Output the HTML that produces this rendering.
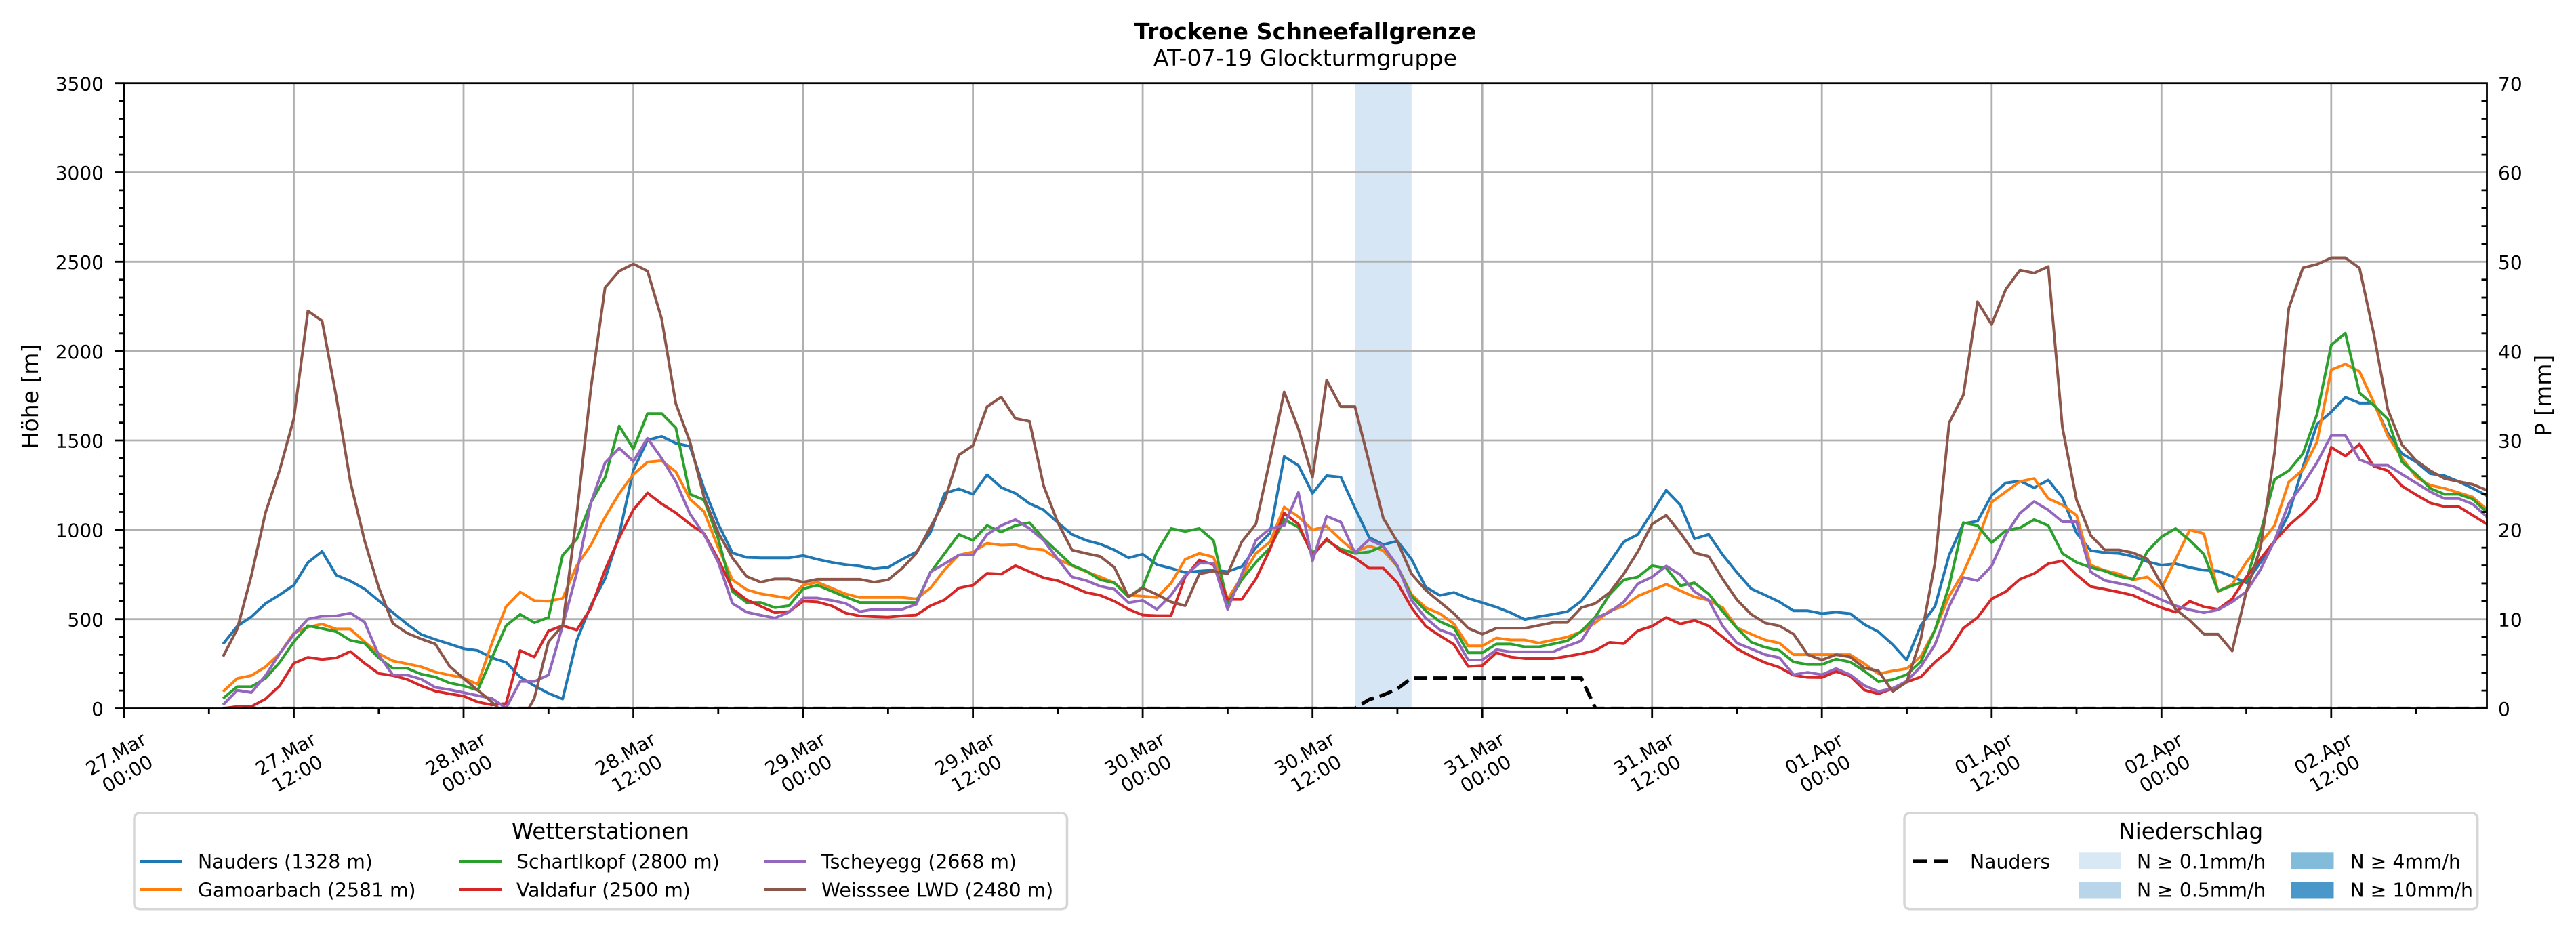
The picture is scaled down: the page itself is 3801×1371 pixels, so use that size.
<!DOCTYPE html>
<html><head><meta charset="utf-8"><style>
html,body{margin:0;padding:0;background:#fff;}
svg{display:block;}
text{font-family:"DejaVu Sans","Liberation Sans",sans-serif;fill:#000;}
.tk{font-size:28px;}
.lg{font-size:28.3px;}
</style></head><body>
<svg width="3801" height="1371" viewBox="0 0 3801 1371" xmlns="http://www.w3.org/2000/svg">
<defs><clipPath id="pc" clipPathUnits="userSpaceOnUse"><rect x="183" y="122.7" width="3486.5" height="922.8"/></clipPath></defs>
<rect width="3801" height="1371" fill="#fff"/>
<!-- title -->
<text x="1926" y="58" text-anchor="middle" font-size="33.3" font-weight="bold">Trockene Schneefallgrenze</text>
<text x="1926" y="97" text-anchor="middle" font-size="33.3">AT-07-19 Glockturmgruppe</text>
<!-- precip band -->
<rect x="1999.3" y="122.7" width="83.5" height="922.8" fill="#d6e6f4"/>
<!-- grid -->
<g stroke="#b0b0b0" stroke-width="2.8" fill="none">
<path d="M183,913.67H3669.5M183,781.83H3669.5M183,650H3669.5M183,518.17H3669.5M183,386.33H3669.5M183,254.5H3669.5"/>
<path d="M433.5,122.7V1045.5M684,122.7V1045.5M934.6,122.7V1045.5M1185.1,122.7V1045.5M1435.6,122.7V1045.5M1686.1,122.7V1045.5M1936.7,122.7V1045.5M2187.2,122.7V1045.5M2437.7,122.7V1045.5M2688.2,122.7V1045.5M2938.8,122.7V1045.5M3189.3,122.7V1045.5M3439.8,122.7V1045.5"/>
</g>
<!-- series -->
<g clip-path="url(#pc)">
<g transform="translate(183,1045.5) scale(20.877,-0.26366)" fill="none" stroke-width="4" stroke-linejoin="round" stroke-linecap="butt">
<polyline vector-effect="non-scaling-stroke" stroke="#1f77b4" points="7,361 8,460 9,513 10,587 11,636 12,690 13,817 14,879 15,746 16,713 17,669 18,603 19,537 20,472 21,414 22,386 23,361 24,335 25,324 26,283 27,258 28,176 29,127 30,85 31,53 32,381 33,578 34,726 35,973 36,1334 37,1502 38,1523 39,1484 40,1467 41,1229 42,1032 43,871 44,846 45,843 46,843 47,843 48,856 49,835 50,818 51,805 52,797 53,782 54,790 55,835 56,876 57,986 58,1204 59,1229 60,1199 61,1308 62,1237 63,1204 64,1147 65,1111 66,1040 67,974 68,941 69,920 70,887 71,843 72,864 73,805 74,785 75,761 76,769 77,774 78,766 79,794 80,900 81,983 82,1410 83,1360 84,1204 85,1303 86,1295 87,1122 88,958 89,917 90,937 91,835 92,679 93,633 94,649 95,616 96,592 97,567 98,536 99,498 100,514 101,527 102,542 103,601 104,705 105,818 106,933 107,974 108,1098 109,1221 110,1139 111,950 112,974 113,859 114,761 115,670 116,634 117,596 118,547 119,547 120,531 121,539 122,531 123,470 124,429 125,358 126,271 127,465 128,572 129,859 130,1035 131,1048 132,1193 133,1262 134,1273 135,1235 136,1278 137,1180 138,983 139,884 140,872 141,868 142,851 143,822 144,802 145,810 146,789 147,774 148,769 149,739 150,703 151,818 152,933 153,1089 154,1352 155,1591 156,1660 157,1742 158,1709 159,1709 160,1541 161,1426 162,1380 163,1314 164,1303 165,1270 166,1232 167,1191"/>
<polyline vector-effect="non-scaling-stroke" stroke="#ff7f0e" points="7,94 8,168 9,184 10,233 11,307 12,422 13,455 14,472 15,444 16,444 17,373 18,307 19,266 20,250 21,233 22,204 23,187 24,171 25,135 26,365 27,570 28,652 29,603 30,600 31,616 32,800 33,915 34,1071 35,1203 36,1310 37,1379 38,1387 39,1325 40,1172 41,1101 42,900 43,720 44,665 45,642 46,629 47,616 48,690 49,707 50,674 51,641 52,621 53,621 54,621 55,621 56,613 57,674 58,777 59,859 60,876 61,925 62,914 63,917 64,896 65,887 66,835 67,799 68,766 69,736 70,703 71,634 72,628 73,621 74,700 75,835 76,868 77,848 78,613 79,736 80,868 81,933 82,1127 83,1073 84,999 85,1020 86,945 87,876 88,909 89,884 90,794 91,638 92,564 93,531 94,473 95,350 96,350 97,394 98,383 99,383 100,366 101,383 102,399 103,430 104,480 105,547 106,572 107,629 108,662 109,695 110,659 111,624 112,605 113,564 114,452 115,416 116,383 117,366 118,301 119,301 120,301 121,301 122,301 123,251 124,194 125,210 126,223 127,292 128,440 129,629 130,761 131,941 132,1155 133,1213 134,1270 135,1287 136,1175 137,1139 138,1081 139,802 140,772 141,753 142,720 143,736 144,670 145,835 146,999 147,979 148,654 149,695 150,818 151,925 152,1024 153,1267 154,1336 155,1492 156,1895 157,1928 158,1886 159,1714 160,1525 161,1402 162,1295 163,1249 164,1232 165,1208 166,1183 167,1114"/>
<polyline vector-effect="non-scaling-stroke" stroke="#2ca02c" points="7,56 8,122 9,122 10,168 11,258 12,373 13,463 14,447 15,430 16,381 17,365 18,283 19,225 20,225 21,192 22,176 23,143 24,127 25,102 26,283 27,463 28,526 29,480 30,509 31,858 32,948 33,1153 34,1293 35,1581 36,1453 37,1651 38,1651 39,1571 40,1199 41,1167 42,950 43,654 44,593 45,593 46,564 47,575 48,670 49,690 50,657 51,624 52,593 53,593 54,593 55,593 56,593 57,761 58,868 59,974 60,941 61,1024 62,988 63,1024 64,1040 65,950 66,876 67,802 68,769 69,720 70,703 71,624 72,679 73,876 74,1007 75,991 76,1007 77,941 78,588 79,720 80,818 81,900 82,1057 83,1015 84,868 85,941 86,892 87,868 88,876 89,909 90,794 91,629 92,547 93,486 94,452 95,312 96,312 97,361 98,361 99,345 100,345 101,361 102,378 103,432 104,514 105,638 106,720 107,736 108,799 109,785 110,687 111,703 112,641 113,542 114,449 115,371 116,342 117,325 118,260 119,246 120,246 121,276 122,260 123,210 124,150 125,161 126,189 127,263 128,440 129,687 130,1040 131,1024 132,928 133,996 134,1011 135,1057 136,1024 137,868 138,818 139,789 140,769 141,739 142,723 143,879 144,961 145,1007 146,941 147,863 148,657 149,687 150,716 151,983 152,1282 153,1331 154,1426 155,1648 156,2034 157,2100 158,1766 159,1697 160,1620 161,1380 162,1311 163,1232 164,1199 165,1199 166,1172 167,1098"/>
<polyline vector-effect="non-scaling-stroke" stroke="#d62728" points="7,0 8,11 9,11 10,53 11,127 12,253 13,286 14,274 15,283 16,319 17,253 18,196 19,184 20,163 21,127 22,97 23,82 24,69 25,36 26,20 27,28 28,324 29,288 30,434 31,463 32,439 33,562 34,776 35,956 36,1112 37,1206 38,1145 39,1095 40,1032 41,979 42,835 43,670 44,608 45,572 46,536 47,542 48,600 49,596 50,575 51,534 52,518 53,514 54,511 55,518 56,523 57,575 58,608 59,674 60,690 61,756 62,752 63,799 64,766 65,731 66,715 67,682 68,649 69,633 70,600 71,555 72,523 73,519 74,519 75,736 76,830 77,805 78,610 79,610 80,725 81,892 82,1093 83,1032 84,854 85,950 86,881 87,843 88,785 89,785 90,703 91,564 92,460 93,407 94,358 95,235 96,240 97,312 98,288 99,279 100,279 101,279 102,292 103,306 104,325 105,370 106,363 107,435 108,460 109,509 110,473 111,493 112,462 113,399 114,334 115,292 116,256 117,230 118,186 119,174 120,173 121,207 122,181 123,103 124,82 125,112 126,148 127,177 128,260 129,325 130,449 131,509 132,613 133,654 134,723 135,755 136,810 137,826 138,748 139,682 140,667 141,651 142,633 143,596 144,564 145,539 146,600 147,569 148,555 149,613 150,736 151,838 152,938 153,1024 154,1093 155,1175 156,1462 157,1413 158,1479 159,1356 160,1331 161,1245 162,1196 163,1150 164,1130 165,1130 166,1081 167,1032"/>
<polyline vector-effect="non-scaling-stroke" stroke="#9467bd" points="7,20 8,102 9,89 10,184 11,307 12,414 13,500 14,516 15,518 16,534 17,483 18,299 19,187 20,187 21,164 22,118 23,105 24,89 25,72 26,56 27,3 28,151 29,151 30,187 31,463 32,759 33,1153 34,1375 35,1457 36,1383 37,1512 38,1400 39,1270 40,1089 41,974 42,818 43,588 44,539 45,522 46,506 47,539 48,618 49,618 50,605 51,588 52,542 53,555 54,555 55,555 56,583 57,764 58,810 59,859 60,859 61,974 62,1024 63,1057 64,1007 65,941 66,835 67,736 68,716 69,684 70,667 71,592 72,605 73,555 74,634 75,744 76,813 77,813 78,555 79,752 80,941 81,1007 82,1024 83,1209 84,826 85,1076 86,1043 87,871 88,945 89,909 90,799 91,605 92,506 93,440 94,411 95,271 96,271 97,329 98,317 99,317 100,317 101,317 102,350 103,378 104,506 105,539 106,596 107,698 108,736 109,797 110,748 111,654 112,605 113,460 114,366 115,334 116,301 117,284 118,189 119,202 120,189 121,223 122,189 123,128 124,95 125,112 126,153 127,235 128,358 129,572 130,733 131,715 132,797 133,974 134,1093 135,1158 136,1111 137,1045 138,1045 139,764 140,716 141,700 142,684 143,646 144,608 145,575 146,552 147,536 148,552 149,596 150,654 151,777 152,941 153,1147 154,1254 155,1377 156,1528 157,1528 158,1393 159,1361 160,1361 161,1311 162,1262 163,1213 164,1175 165,1175 166,1144 167,1073"/>
<polyline vector-effect="non-scaling-stroke" stroke="#8c564b" points="7,291 8,444 9,743 10,1096 11,1334 12,1622 13,2225 14,2169 15,1745 16,1268 17,940 18,677 19,476 20,422 21,389 22,361 23,237 24,168 25,102 26,36 27,-40 28,-85 29,57 30,373 31,463 32,1088 33,1794 34,2356 35,2448 36,2488 37,2448 38,2180 39,1706 40,1492 41,1180 42,983 43,843 44,739 45,707 46,725 47,725 48,707 49,723 50,723 51,723 52,723 53,707 54,720 55,785 56,868 57,1015 58,1163 59,1418 60,1472 61,1689 62,1743 63,1623 64,1607 65,1245 66,1040 67,887 68,868 69,851 70,789 71,624 72,674 73,638 74,596 75,575 76,753 77,769 78,753 79,933 80,1032 81,1393 82,1771 83,1566 84,1295 85,1837 86,1689 87,1689 88,1377 89,1065 90,933 91,753 92,662 93,596 94,531 95,449 96,416 97,449 98,449 99,449 100,465 101,481 102,481 103,564 104,588 105,649 106,753 107,879 108,1032 109,1081 110,983 111,871 112,851 113,723 114,608 115,527 116,478 117,462 118,416 119,301 120,271 121,301 122,288 123,227 124,210 125,95 126,148 127,391 128,818 129,1599 130,1755 131,2276 132,2149 133,2346 134,2453 135,2437 136,2473 137,1574 138,1167 139,969 140,887 141,887 142,871 143,838 144,695 145,555 146,493 147,416 148,416 149,322 150,654 151,900 152,1434 153,2240 154,2466 155,2486 156,2522 157,2522 158,2465 159,2100 160,1673 161,1476 162,1388 163,1331 164,1287 165,1270 166,1254 167,1221"/>
</g>
<!-- precipitation dashed -->
<polyline fill="none" stroke="#000" stroke-width="5.2" stroke-dasharray="20,9" points="329.1,1045.5 1999.3,1045.5 2020.2,1032.4 2041.1,1025.7 2061.9,1016.5 2082.8,1000.7 2333.3,1000.7 2354.2,1045.5 3669.5,1045.5"/>
</g>
<!-- ticks -->
<g stroke="#000" stroke-width="2.8" fill="none">
<path d="M169,1045.5H183M169,913.67H183M169,781.83H183M169,650H183M169,518.17H183M169,386.33H183M169,254.5H183M169,122.67H183"/>
<path d="M175,1019.13H183M175,992.77H183M175,966.4H183M175,940.04H183M175,887.3H183M175,860.94H183M175,834.57H183M175,808.21H183M175,755.47H183M175,729.11H183M175,702.74H183M175,676.38H183M175,623.64H183M175,597.28H183M175,570.91H183M175,544.55H183M175,491.81H183M175,465.45H183M175,439.08H183M175,412.72H183M175,359.98H183M175,333.62H183M175,307.25H183M175,280.89H183M175,228.15H183M175,201.79H183M175,175.42H183M175,149.06H183"/>
<path d="M3661.5,1019.13H3669.5M3661.5,992.77H3669.5M3661.5,966.4H3669.5M3661.5,940.04H3669.5M3661.5,887.3H3669.5M3661.5,860.94H3669.5M3661.5,834.57H3669.5M3661.5,808.21H3669.5M3661.5,755.47H3669.5M3661.5,729.11H3669.5M3661.5,702.74H3669.5M3661.5,676.38H3669.5M3661.5,623.64H3669.5M3661.5,597.28H3669.5M3661.5,570.91H3669.5M3661.5,544.55H3669.5M3661.5,491.81H3669.5M3661.5,465.45H3669.5M3661.5,439.08H3669.5M3661.5,412.72H3669.5M3661.5,359.98H3669.5M3661.5,333.62H3669.5M3661.5,307.25H3669.5M3661.5,280.89H3669.5M3661.5,228.15H3669.5M3661.5,201.79H3669.5M3661.5,175.42H3669.5M3661.5,149.06H3669.5"/>
<path d="M183,1045.5V1060M433.5,1045.5V1060M684,1045.5V1060M934.6,1045.5V1060M1185.1,1045.5V1060M1435.6,1045.5V1060M1686.1,1045.5V1060M1936.7,1045.5V1060M2187.2,1045.5V1060M2437.7,1045.5V1060M2688.2,1045.5V1060M2938.8,1045.5V1060M3189.3,1045.5V1060M3439.8,1045.5V1060"/>
<path d="M308.3,1045.5V1053.5M558.8,1045.5V1053.5M809.3,1045.5V1053.5M1059.8,1045.5V1053.5M1310.4,1045.5V1053.5M1560.9,1045.5V1053.5M1811.4,1045.5V1053.5M2061.9,1045.5V1053.5M2312.5,1045.5V1053.5M2563,1045.5V1053.5M2813.5,1045.5V1053.5M3064,1045.5V1053.5M3314.6,1045.5V1053.5M3565.1,1045.5V1053.5"/>
<rect x="183" y="122.7" width="3486.5" height="922.8"/>
</g>
<!-- y tick labels left -->
<g class="tk" text-anchor="end">
<text x="153" y="1056.2">0</text>
<text x="153" y="924.4">500</text>
<text x="153" y="792.5">1000</text>
<text x="153" y="660.7">1500</text>
<text x="153" y="528.9">2000</text>
<text x="153" y="397">2500</text>
<text x="153" y="265.2">3000</text>
<text x="153" y="133.4">3500</text>
</g>
<!-- y tick labels right -->
<g class="tk" text-anchor="start">
<text x="3686" y="1056.2">0</text>
<text x="3686" y="924.4">10</text>
<text x="3686" y="792.5">20</text>
<text x="3686" y="660.7">30</text>
<text x="3686" y="528.9">40</text>
<text x="3686" y="397">50</text>
<text x="3686" y="265.2">60</text>
<text x="3686" y="133.4">70</text>
</g>
<!-- axis labels -->
<text transform="translate(56,585) rotate(-90)" text-anchor="middle" font-size="33">Höhe [m]</text>
<text transform="translate(3764,584) rotate(-90)" text-anchor="middle" font-size="33">P [mm]</text>
<!-- x tick labels -->
<g class="tk" text-anchor="middle">
<g transform="translate(179.5,1127) rotate(-30)"><text><tspan x="0" y="-6.8">27.Mar</tspan><tspan x="0" y="26.8">00:00</tspan></text></g>
<g transform="translate(430,1127) rotate(-30)"><text><tspan x="0" y="-6.8">27.Mar</tspan><tspan x="0" y="26.8">12:00</tspan></text></g>
<g transform="translate(680.5,1127) rotate(-30)"><text><tspan x="0" y="-6.8">28.Mar</tspan><tspan x="0" y="26.8">00:00</tspan></text></g>
<g transform="translate(931.1,1127) rotate(-30)"><text><tspan x="0" y="-6.8">28.Mar</tspan><tspan x="0" y="26.8">12:00</tspan></text></g>
<g transform="translate(1181.6,1127) rotate(-30)"><text><tspan x="0" y="-6.8">29.Mar</tspan><tspan x="0" y="26.8">00:00</tspan></text></g>
<g transform="translate(1432.1,1127) rotate(-30)"><text><tspan x="0" y="-6.8">29.Mar</tspan><tspan x="0" y="26.8">12:00</tspan></text></g>
<g transform="translate(1682.6,1127) rotate(-30)"><text><tspan x="0" y="-6.8">30.Mar</tspan><tspan x="0" y="26.8">00:00</tspan></text></g>
<g transform="translate(1933.2,1127) rotate(-30)"><text><tspan x="0" y="-6.8">30.Mar</tspan><tspan x="0" y="26.8">12:00</tspan></text></g>
<g transform="translate(2183.7,1127) rotate(-30)"><text><tspan x="0" y="-6.8">31.Mar</tspan><tspan x="0" y="26.8">00:00</tspan></text></g>
<g transform="translate(2434.2,1127) rotate(-30)"><text><tspan x="0" y="-6.8">31.Mar</tspan><tspan x="0" y="26.8">12:00</tspan></text></g>
<g transform="translate(2684.7,1127) rotate(-30)"><text><tspan x="0" y="-6.8">01.Apr</tspan><tspan x="0" y="26.8">00:00</tspan></text></g>
<g transform="translate(2935.3,1127) rotate(-30)"><text><tspan x="0" y="-6.8">01.Apr</tspan><tspan x="0" y="26.8">12:00</tspan></text></g>
<g transform="translate(3185.8,1127) rotate(-30)"><text><tspan x="0" y="-6.8">02.Apr</tspan><tspan x="0" y="26.8">00:00</tspan></text></g>
<g transform="translate(3436.3,1127) rotate(-30)"><text><tspan x="0" y="-6.8">02.Apr</tspan><tspan x="0" y="26.8">12:00</tspan></text></g>
</g>
<!-- legend: Wetterstationen -->
<rect x="198" y="1200" width="1376.5" height="141.7" rx="8" ry="8" fill="#fff" stroke="#d6d6d6" stroke-width="3.5"/>
<text x="886" y="1238" text-anchor="middle" font-size="32.6">Wetterstationen</text>
<g stroke-width="4" fill="none">
<path d="M207,1271H269" stroke="#1f77b4"/>
<path d="M207,1313H269" stroke="#ff7f0e"/>
<path d="M678,1271H740" stroke="#2ca02c"/>
<path d="M678,1313H740" stroke="#d62728"/>
<path d="M1127,1271H1189" stroke="#9467bd"/>
<path d="M1127,1313H1189" stroke="#8c564b"/>
</g>
<g class="lg">
<text x="292" y="1281.5">Nauders (1328 m)</text>
<text x="292" y="1323.5">Gamoarbach (2581 m)</text>
<text x="762" y="1281.5">Schartlkopf (2800 m)</text>
<text x="762" y="1323.5">Valdafur (2500 m)</text>
<text x="1212" y="1281.5">Tscheyegg (2668 m)</text>
<text x="1212" y="1323.5">Weisssee LWD (2480 m)</text>
</g>
<!-- legend: Niederschlag -->
<rect x="2810" y="1200" width="845.7" height="141.7" rx="8" ry="8" fill="#fff" stroke="#d6d6d6" stroke-width="3.5"/>
<text x="3232.8" y="1238" text-anchor="middle" font-size="32.6">Niederschlag</text>
<path d="M2822,1271H2878" stroke="#000" stroke-width="5.2" stroke-dasharray="21,10" fill="none"/>
<rect x="3067" y="1258.3" width="62.5" height="24.5" fill="#d9e8f5"/>
<rect x="3067" y="1301" width="62.5" height="24.5" fill="#b8d5ea"/>
<rect x="3381" y="1258.3" width="62.5" height="24.5" fill="#83bbdb"/>
<rect x="3381" y="1301" width="62.5" height="24.5" fill="#4a98c9"/>
<g class="lg">
<text x="2907" y="1281.5">Nauders</text>
<text x="3153" y="1281.5">N ≥ 0.1mm/h</text>
<text x="3153" y="1323.5">N ≥ 0.5mm/h</text>
<text x="3467.5" y="1281.5">N ≥ 4mm/h</text>
<text x="3467.5" y="1323.5">N ≥ 10mm/h</text>
</g>
</svg>
</body></html>
